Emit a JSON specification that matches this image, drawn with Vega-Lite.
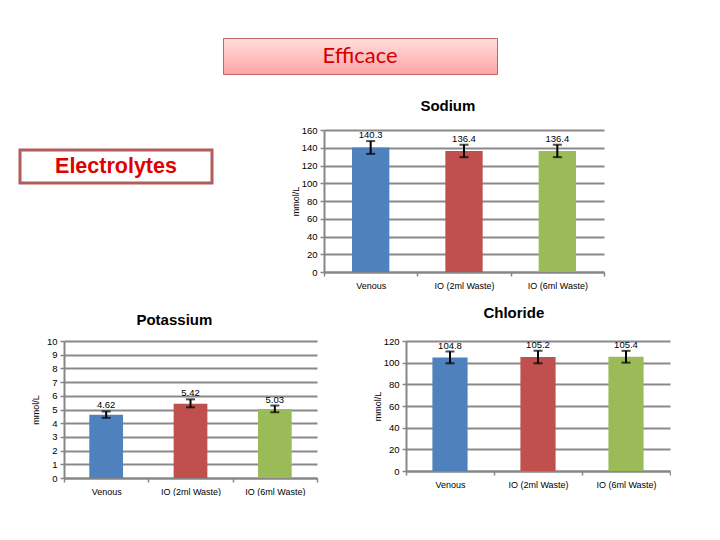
{
  "$schema": "https://vega.github.io/schema/vega-lite/v6.json",
  "background": "white",
  "padding": {"left": 18, "top": 37, "right": 0, "bottom": 0},
  "spacing": 16,
  "config": {
    "font": "Liberation Sans",
    "view": {"stroke": null},
    "axis": {
      "labelColor": "black",
      "titleColor": "black",
      "labelFontSize": 9.5,
      "domainColor": "#868686",
      "domainWidth": 2,
      "tickColor": "#868686",
      "tickWidth": 1.5,
      "gridColor": "#898989",
      "gridWidth": 2
    },
    "axisX": {"ticks": true, "tickSize": 4, "tickBand": "extent", "labelPadding": 5, "labelAngle": 0, "labelFontSize": 9, "grid": false},
    "axisY": {"tickSize": 4, "labelPadding": 3, "titleFontSize": 9, "titleFontWeight": "normal", "titleX": -29, "titleBaseline": "middle", "titleAngle": -90},
    "title": {"font": "Liberation Sans", "fontSize": 15, "fontWeight": "bold", "anchor": "middle", "frame": "bounds", "color": "black"}
  },
  "datasets": {
    "sodium": [
      {"group": "Venous", "value": 140.3, "lo": 133.1, "hi": 147.5},
      {"group": "IO (2ml Waste)", "value": 136.4, "lo": 129.4, "hi": 143.4},
      {"group": "IO (6ml Waste)", "value": 136.4, "lo": 129.4, "hi": 143.4}
    ],
    "potassium": [
      {"group": "Venous", "value": 4.62, "lo": 4.39, "hi": 4.86},
      {"group": "IO (2ml Waste)", "value": 5.42, "lo": 5.16, "hi": 5.74},
      {"group": "IO (6ml Waste)", "value": 5.03, "lo": 4.8, "hi": 5.29}
    ],
    "chloride": [
      {"group": "Venous", "value": 104.8, "lo": 99.4, "hi": 110.3},
      {"group": "IO (2ml Waste)", "value": 105.2, "lo": 99.4, "hi": 111.0},
      {"group": "IO (6ml Waste)", "value": 105.4, "lo": 100.0, "hi": 110.9}
    ]
  },
  "vconcat": [
    {
      "spacing": 0,
      "hconcat": [
        {"width": 202, "height": 44.5, "data": {"values": []}, "mark": "point"},
        {
          "width": 274,
          "height": 36,
          "view": {
            "fill": {"gradient": "linear", "x1": 0, "y1": 0, "x2": 0, "y2": 1, "stops": [{"offset": 0, "color": "#ffdede"}, {"offset": 1, "color": "#ffa3a3"}]},
            "stroke": "#c36464",
            "strokeWidth": 1
          },
          "data": {"values": [{"label": "Efficace"}]},
          "mark": {"type": "text", "font": "Lato", "fontSize": 22, "color": "#d40000", "baseline": "middle", "align": "center"},
          "encoding": {"text": {"field": "label"}}
        }
      ]
    },
    {
      "spacing": 77,
      "hconcat": [
        {
          "spacing": 0,
          "vconcat": [
            {"width": 1, "height": 18, "data": {"values": []}, "mark": "point"},
            {
              "width": 192,
              "height": 33,
              "view": {"stroke": "#b35c5c", "strokeWidth": 3, "fill": "white"},
              "data": {"values": [{"label": "Electrolytes"}]},
              "mark": {"type": "text", "fontWeight": "bold", "fontSize": 21.5, "color": "#e00000", "baseline": "middle", "align": "center"},
              "encoding": {"text": {"field": "label"}}
            }
          ]
        },
        {
          "width": 280,
          "height": 142,
          "title": {"text": "Sodium", "offset": 11},
          "data": {"name": "sodium"},
          "encoding": {
            "x": {"field": "group", "type": "nominal", "sort": null, "title": null, "scale": {"paddingInner": 0, "paddingOuter": 0}}
          },
          "layer": [
            {
              "mark": {"type": "bar", "width": {"band": 0.4}},
              "encoding": {
                "y": {"field": "value", "type": "quantitative", "title": "mmol/L", "scale": {"domain": [0, 160]}, "axis": {"tickCount": 8}},
                "color": {"field": "group", "type": "nominal", "legend": null, "scale": {"domain": ["Venous", "IO (2ml Waste)", "IO (6ml Waste)"], "range": ["#4f81bd", "#c0504d", "#9bbb59"]}}
              }
            },
            {
              "mark": {"type": "errorbar", "ticks": {"size": 9}, "thickness": 2, "color": "black"},
              "encoding": {"y": {"field": "lo", "type": "quantitative", "title": "mmol/L"}, "y2": {"field": "hi"}}
            },
            {
              "mark": {"type": "text", "baseline": "alphabetic", "dy": -3, "fontSize": 9.5, "color": "black"},
              "encoding": {"y": {"field": "hi", "type": "quantitative", "title": "mmol/L"}, "text": {"field": "value", "type": "quantitative", "format": ".1f"}}
            }
          ]
        }
      ]
    },
    {
      "spacing": 0,
      "hconcat": [
        {"width": 11, "height": 1, "data": {"values": []}, "mark": "point"},
        {
          "width": 253,
          "height": 137,
          "title": {"text": "Potassium", "offset": 8},
          "data": {"name": "potassium"},
          "encoding": {
            "x": {"field": "group", "type": "nominal", "sort": null, "title": null, "scale": {"paddingInner": 0, "paddingOuter": 0}}
          },
          "layer": [
            {
              "mark": {"type": "bar", "width": {"band": 0.4}},
              "encoding": {
                "y": {"field": "value", "type": "quantitative", "title": "mmol/L", "scale": {"domain": [0, 10]}, "axis": {"tickCount": 10}},
                "color": {"field": "group", "type": "nominal", "legend": null, "scale": {"domain": ["Venous", "IO (2ml Waste)", "IO (6ml Waste)"], "range": ["#4f81bd", "#c0504d", "#9bbb59"]}}
              }
            },
            {
              "mark": {"type": "errorbar", "ticks": {"size": 9}, "thickness": 2, "color": "black"},
              "encoding": {"y": {"field": "lo", "type": "quantitative", "title": "mmol/L"}, "y2": {"field": "hi"}}
            },
            {
              "mark": {"type": "text", "baseline": "alphabetic", "dy": -3, "fontSize": 9.5, "color": "black"},
              "encoding": {"y": {"field": "hi", "type": "quantitative", "title": "mmol/L"}, "text": {"field": "value", "type": "quantitative", "format": ".2f"}}
            }
          ]
        },
        {"width": 55, "height": 1, "data": {"values": []}, "mark": "point"},
        {
          "width": 264,
          "height": 130,
          "title": {"text": "Chloride", "offset": 15, "dx": -8},
          "data": {"name": "chloride"},
          "encoding": {
            "x": {"field": "group", "type": "nominal", "sort": null, "title": null, "scale": {"paddingInner": 0, "paddingOuter": 0}}
          },
          "layer": [
            {
              "mark": {"type": "bar", "width": {"band": 0.4}},
              "encoding": {
                "y": {"field": "value", "type": "quantitative", "title": "mmol/L", "scale": {"domain": [0, 120]}, "axis": {"tickCount": 6}},
                "color": {"field": "group", "type": "nominal", "legend": null, "scale": {"domain": ["Venous", "IO (2ml Waste)", "IO (6ml Waste)"], "range": ["#4f81bd", "#c0504d", "#9bbb59"]}}
              }
            },
            {
              "mark": {"type": "errorbar", "ticks": {"size": 9}, "thickness": 2, "color": "black"},
              "encoding": {"y": {"field": "lo", "type": "quantitative", "title": "mmol/L"}, "y2": {"field": "hi"}}
            },
            {
              "mark": {"type": "text", "baseline": "alphabetic", "dy": -3, "fontSize": 9.5, "color": "black"},
              "encoding": {"y": {"field": "hi", "type": "quantitative", "title": "mmol/L"}, "text": {"field": "value", "type": "quantitative", "format": ".1f"}}
            }
          ]
        }
      ]
    }
  ]
}
